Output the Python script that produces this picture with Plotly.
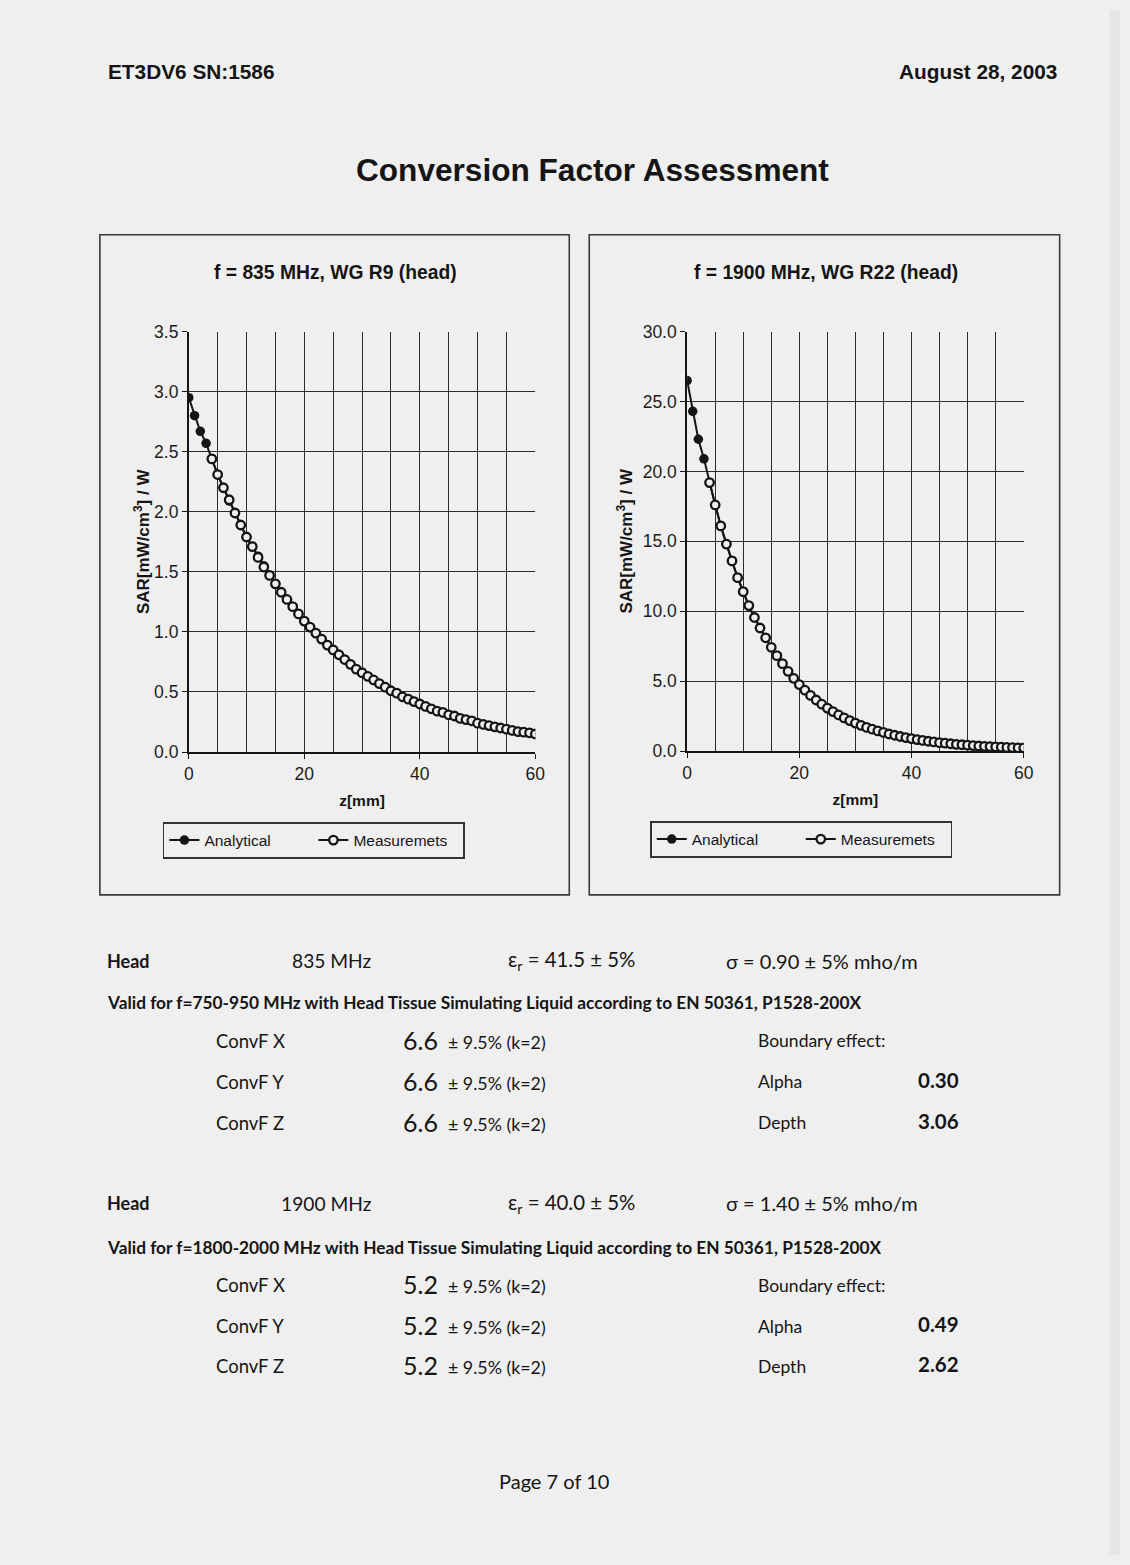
import plotly.graph_objects as go

# ---------------------------------------------------------------- data
# probe distance from the phantom surface [mm]
z_analytical = [0, 1, 2, 3, 4, 5, 6, 7, 8, 9, 10, 11, 12, 13, 14, 15, 16, 17, 18, 19,
                20, 21, 22, 23, 24, 25, 26, 27, 28, 29, 30, 31, 32, 33, 34, 35, 36, 37, 38, 39,
                40, 41, 42, 43, 44, 45, 46, 47, 48, 49, 50, 51, 52, 53, 54, 55, 56, 57, 58, 59, 60]
z_measured = [4, 5, 6, 7, 8, 9, 10, 11, 12, 13, 14, 15, 16, 17, 18, 19,
              20, 21, 22, 23, 24, 25, 26, 27, 28, 29, 30, 31, 32, 33, 34, 35, 36, 37, 38, 39,
              40, 41, 42, 43, 44, 45, 46, 47, 48, 49, 50, 51, 52, 53, 54, 55, 56, 57, 58, 59, 60]

# SAR [mW/cm3] / W, 835 MHz head
sar_835_analytical = [2.95, 2.80, 2.67, 2.57, 2.44, 2.31, 2.20, 2.09, 1.99, 1.89,
                      1.79, 1.71, 1.63, 1.55, 1.47, 1.40, 1.33, 1.27, 1.21, 1.15,
                      1.09, 1.04, 0.99, 0.94, 0.89, 0.85, 0.81, 0.77, 0.73, 0.69,
                      0.66, 0.63, 0.60, 0.57, 0.54, 0.51, 0.49, 0.46, 0.44, 0.42,
                      0.40, 0.38, 0.36, 0.34, 0.33, 0.31, 0.30, 0.28, 0.27, 0.26,
                      0.24, 0.23, 0.22, 0.21, 0.20, 0.19, 0.18, 0.17, 0.165, 0.16, 0.15]
sar_835_measured = [2.44, 2.31, 2.20, 2.10, 1.99, 1.89,
                    1.79, 1.71, 1.62, 1.54, 1.47, 1.40, 1.33, 1.27, 1.21, 1.15,
                    1.09, 1.04, 0.99, 0.94, 0.89, 0.85, 0.81, 0.77, 0.73, 0.69,
                    0.66, 0.63, 0.60, 0.57, 0.54, 0.51, 0.49, 0.46, 0.44, 0.42,
                    0.40, 0.38, 0.36, 0.34, 0.33, 0.31, 0.30, 0.28, 0.27, 0.26,
                    0.24, 0.23, 0.22, 0.21, 0.20, 0.19, 0.18, 0.17, 0.165, 0.16, 0.15]

# SAR [mW/cm3] / W, 1900 MHz head
sar_1900_analytical = [26.5, 24.3, 22.3, 20.9, 19.2, 17.6, 16.1, 14.8, 13.6, 12.4,
                       11.4, 10.4, 9.55, 8.80, 8.10, 7.42, 6.82, 6.25, 5.70, 5.20,
                       4.75, 4.35, 3.98, 3.65, 3.35, 3.07, 2.82, 2.58, 2.37, 2.18,
                       2.00, 1.84, 1.69, 1.56, 1.44, 1.33, 1.22, 1.13, 1.04, 0.96,
                       0.89, 0.82, 0.76, 0.70, 0.65, 0.60, 0.56, 0.52, 0.48, 0.45,
                       0.42, 0.39, 0.36, 0.34, 0.32, 0.30, 0.28, 0.26, 0.25, 0.23, 0.22]
sar_1900_measured = [19.2, 17.6, 16.1, 14.8, 13.6, 12.4,
                     11.4, 10.4, 9.55, 8.80, 8.10, 7.42, 6.82, 6.25, 5.70, 5.20,
                     4.75, 4.35, 3.98, 3.65, 3.35, 3.07, 2.82, 2.58, 2.37, 2.18,
                     2.00, 1.84, 1.69, 1.56, 1.44, 1.33, 1.22, 1.13, 1.04, 0.96,
                     0.89, 0.82, 0.76, 0.70, 0.65, 0.60, 0.56, 0.52, 0.48, 0.45,
                     0.42, 0.39, 0.36, 0.34, 0.32, 0.30, 0.28, 0.26, 0.25, 0.23, 0.22]

x_ticks = [0, 20, 40, 60]
x_grid = [0, 5, 10, 15, 20, 25, 30, 35, 40, 45, 50, 55]
y_ticks_835 = [0.0, 0.5, 1.0, 1.5, 2.0, 2.5, 3.0, 3.5]
y_grid_835 = [0.5, 1.0, 1.5, 2.0, 2.5, 3.0]
y_ticks_1900 = [0.0, 5.0, 10.0, 15.0, 20.0, 25.0, 30.0]
y_grid_1900 = [5.0, 10.0, 15.0, 20.0, 25.0]

chart_titles = ["f = 835 MHz, WG R9 (head)", "f = 1900 MHz, WG R22 (head)"]
series_names = ["Analytical", "Measuremets"]

header_left = "ET3DV6 SN:1586"
header_right = "August 28, 2003"
page_title = "Conversion Factor Assessment"
footer = "Page 7 of 10"

# conversion factor table
tissue = ["Head", "Head"]
freq_labels = ["835 MHz", "1900 MHz"]
eps_r = ["41.5", "40.0"]
sigma = ["0.90", "1.40"]
valid_ranges = ["750-950", "1800-2000"]
convf_axes = ["X", "Y", "Z"]
convf_values = [[6.6, 6.6, 6.6], [5.2, 5.2, 5.2]]
convf_uncertainty = "± 9.5% (k=2)"
alpha = [0.30, 0.49]
depth = [3.06, 2.62]

# ---------------------------------------------------------------- layout helpers
W, H = 1130, 1565
# page position of the figure's top-left corner and the scale it is shown at
OX, OY, SX, SY = 4.0, 10.0, 0.988, 0.9885
HEAD_FONT = "Arial, Liberation Sans, sans-serif"
BODY_FONT = "Lato, Arial, sans-serif"
INK = "#151515"
GRID = "#2c2c2c"
PAPER = "#efefef"


def px(x):
    """page pixel column -> paper fraction"""
    return (x - OX) / SX / W


def py(y):
    """page pixel row -> paper fraction"""
    return 1 - (y - OY) / SY / H


annotations = []


def text(s, x, y, size, anchor="left", family=BODY_FONT, bold=False, color=INK):
    annotations.append(dict(
        text=f"<b>{s}</b>" if bold else s,
        x=px(x), y=py(y), xref="paper", yref="paper",
        xanchor=anchor, yanchor="middle", showarrow=False,
        borderpad=0, borderwidth=0,
        font=dict(size=size, family=family, color=color)))


fig = go.Figure()

charts = [
    dict(sfx="", grid="3", xdom=(188, 535), ydom=(332, 753), yt=y_ticks_835, yg=y_grid_835,
         yr=[0, 3.5], za=z_analytical, ya=sar_835_analytical, zm=z_measured, ym=sar_835_measured,
         legend="legend", leg_xy=(162, 823), title_x=335, standoff=0),
    dict(sfx="2", grid="4", xdom=(687, 1024), ydom=(332, 752), yt=y_ticks_1900, yg=y_grid_1900,
         yr=[0, 30], za=z_analytical, ya=sar_1900_analytical, zm=z_measured, ym=sar_1900_measured,
         legend="legend2", leg_xy=(650, 822), title_x=826, standoff=6),
]

layout_axes = {}
legends = {}
for i, c in enumerate(charts):
    xa, ya = "x" + c["sfx"], "y" + c["sfx"]
    xg, yg = "x" + c["grid"], "y" + c["grid"]
    xdom = [px(c["xdom"][0]), px(c["xdom"][1])]
    ydom = [py(c["ydom"][1]), py(c["ydom"][0])]

    fig.add_trace(go.Scatter(
        x=c["za"], y=c["ya"], name=series_names[0], mode="lines+markers",
        line=dict(color=INK, width=2),
        marker=dict(symbol="circle", size=9.5, color=INK),
        xaxis=xa, yaxis=ya, legend=c["legend"]))
    fig.add_trace(go.Scatter(
        x=c["zm"], y=c["ym"], name=series_names[1], mode="lines+markers",
        line=dict(color=INK, width=2),
        marker=dict(symbol="circle", size=8.5, color=PAPER, line=dict(color=INK, width=2.3)),
        xaxis=xa, yaxis=ya, legend=c["legend"]))
    # empty trace so the grid-only overlay axes get a subplot
    fig.add_trace(go.Scatter(x=[], y=[], xaxis=xg, yaxis=yg, showlegend=False,
                             hoverinfo="skip"))

    tickfont = dict(family=HEAD_FONT, size=17.5, color="#1c1c1c")
    layout_axes["xaxis" + c["sfx"]] = dict(
        domain=xdom, anchor=ya, range=[0, 60], tickvals=x_ticks,
        ticks="outside", ticklen=5, tickcolor=INK, tickwidth=1.4,
        showline=True, linecolor=INK, linewidth=1.8, showgrid=False, zeroline=False,
        tickfont=tickfont,
        title=dict(text="<b>z[mm]</b>", font=dict(family=HEAD_FONT, size=15.5, color=INK),
                   standoff=12))
    layout_axes["yaxis" + c["sfx"]] = dict(
        domain=ydom, anchor=xa, range=c["yr"], tickvals=c["yt"], tickformat=".1f",
        ticks="outside", ticklen=5, tickcolor=INK, tickwidth=1.4,
        showline=True, linecolor=INK, linewidth=1.8, showgrid=False, zeroline=False,
        tickfont=tickfont,
        title=dict(text="<b>SAR[mW/cm<sup>3</sup>] / W</b>",
                   font=dict(family=HEAD_FONT, size=17, color=INK), standoff=c["standoff"]))
    layout_axes["xaxis" + c["grid"]] = dict(
        overlaying=xa, anchor=yg, range=[0, 60], tickvals=x_grid, showgrid=True,
        gridcolor=GRID, gridwidth=1.4, showticklabels=False, ticks="",
        showline=False, zeroline=False)
    layout_axes["yaxis" + c["grid"]] = dict(
        overlaying=ya, anchor=xg, range=c["yr"], tickvals=c["yg"], showgrid=True,
        gridcolor=GRID, gridwidth=1.4, showticklabels=False, ticks="",
        showline=False, zeroline=False)

    legends[c["legend"]] = dict(
        x=px(c["leg_xy"][0]), y=py(c["leg_xy"][1]), xanchor="left", yanchor="top",
        orientation="h", entrywidth=104, bgcolor="rgba(0,0,0,0)",
        bordercolor="#333333", borderwidth=1.6,
        font=dict(family=HEAD_FONT, size=15.5, color=INK))

    text(chart_titles[i], c["title_x"], 273, 19.3, anchor="center", family=HEAD_FONT, bold=True)

# page header / footer
text(header_left, 107, 72, 20.8, family=HEAD_FONT, bold=True)
text(header_right, 1057, 72, 20.8, anchor="right", family=HEAD_FONT, bold=True)
text(page_title, 592, 170, 31.6, anchor="center", family=HEAD_FONT, bold=True)
text(footer, 554, 1483, 20, anchor="center")

# conversion factor table
block_y = [962, 1205]
valid_y = [1004, 1249]
row_y = [[1042, 1083, 1124], [1287, 1328, 1368]]
for b in range(2):
    y0 = block_y[b]
    text(tissue[b], 106, y0, 18, bold=True)
    text(freq_labels[b], 371, y0, 19.2, anchor="right")
    text(f"ε<sub>r</sub> = {eps_r[b]} ± 5%", 508, y0, 20.4)
    text(f"σ = {sigma[b]} ± 5% mho/m", 726, y0, 20)
    text(f"Valid for f={valid_ranges[b]} MHz with Head Tissue Simulating Liquid "
         f"according to EN 50361, P1528-200X", 106, valid_y[b], 17.3, bold=True)
    for r in range(3):
        yr = row_y[b][r]
        text(f"ConvF {convf_axes[r]}", 215, yr, 18.5)
        text(f"{convf_values[b][r]:.1f}", 403, yr - 1, 25)
        text(convf_uncertainty, 448, yr + 1, 17.8)
    text("Boundary effect:", 758, row_y[b][0], 17.5)
    text("Alpha", 758, row_y[b][1], 17.5)
    text(f"{alpha[b]:.2f}", 959, row_y[b][1] - 2, 20.5, anchor="right", bold=True)
    text("Depth", 758, row_y[b][2], 17.5)
    text(f"{depth[b]:.2f}", 959, row_y[b][2] - 2, 20.5, anchor="right", bold=True)

# page edge strip and chart frames
shapes = [
    dict(type="rect", xref="paper", yref="paper", x0=px(1110), x1=1, y0=0, y1=1,
         fillcolor="#e6e6e6", line=dict(width=0), layer="below"),
]
for (x0, x1) in [(99, 569), (589, 1060)]:
    shapes.append(dict(type="rect", xref="paper", yref="paper",
                       x0=px(x0), x1=px(x1), y0=py(896), y1=py(235),
                       line=dict(color="#3a3a3a", width=1.6), layer="below"))

fig.update_layout(
    width=W, height=H, autosize=False,
    margin=dict(l=0, r=0, t=0, b=0),
    paper_bgcolor=PAPER, plot_bgcolor="rgba(0,0,0,0)",
    annotations=annotations, shapes=shapes,
    **layout_axes, **legends,
)

fig.write_html("out.html")
